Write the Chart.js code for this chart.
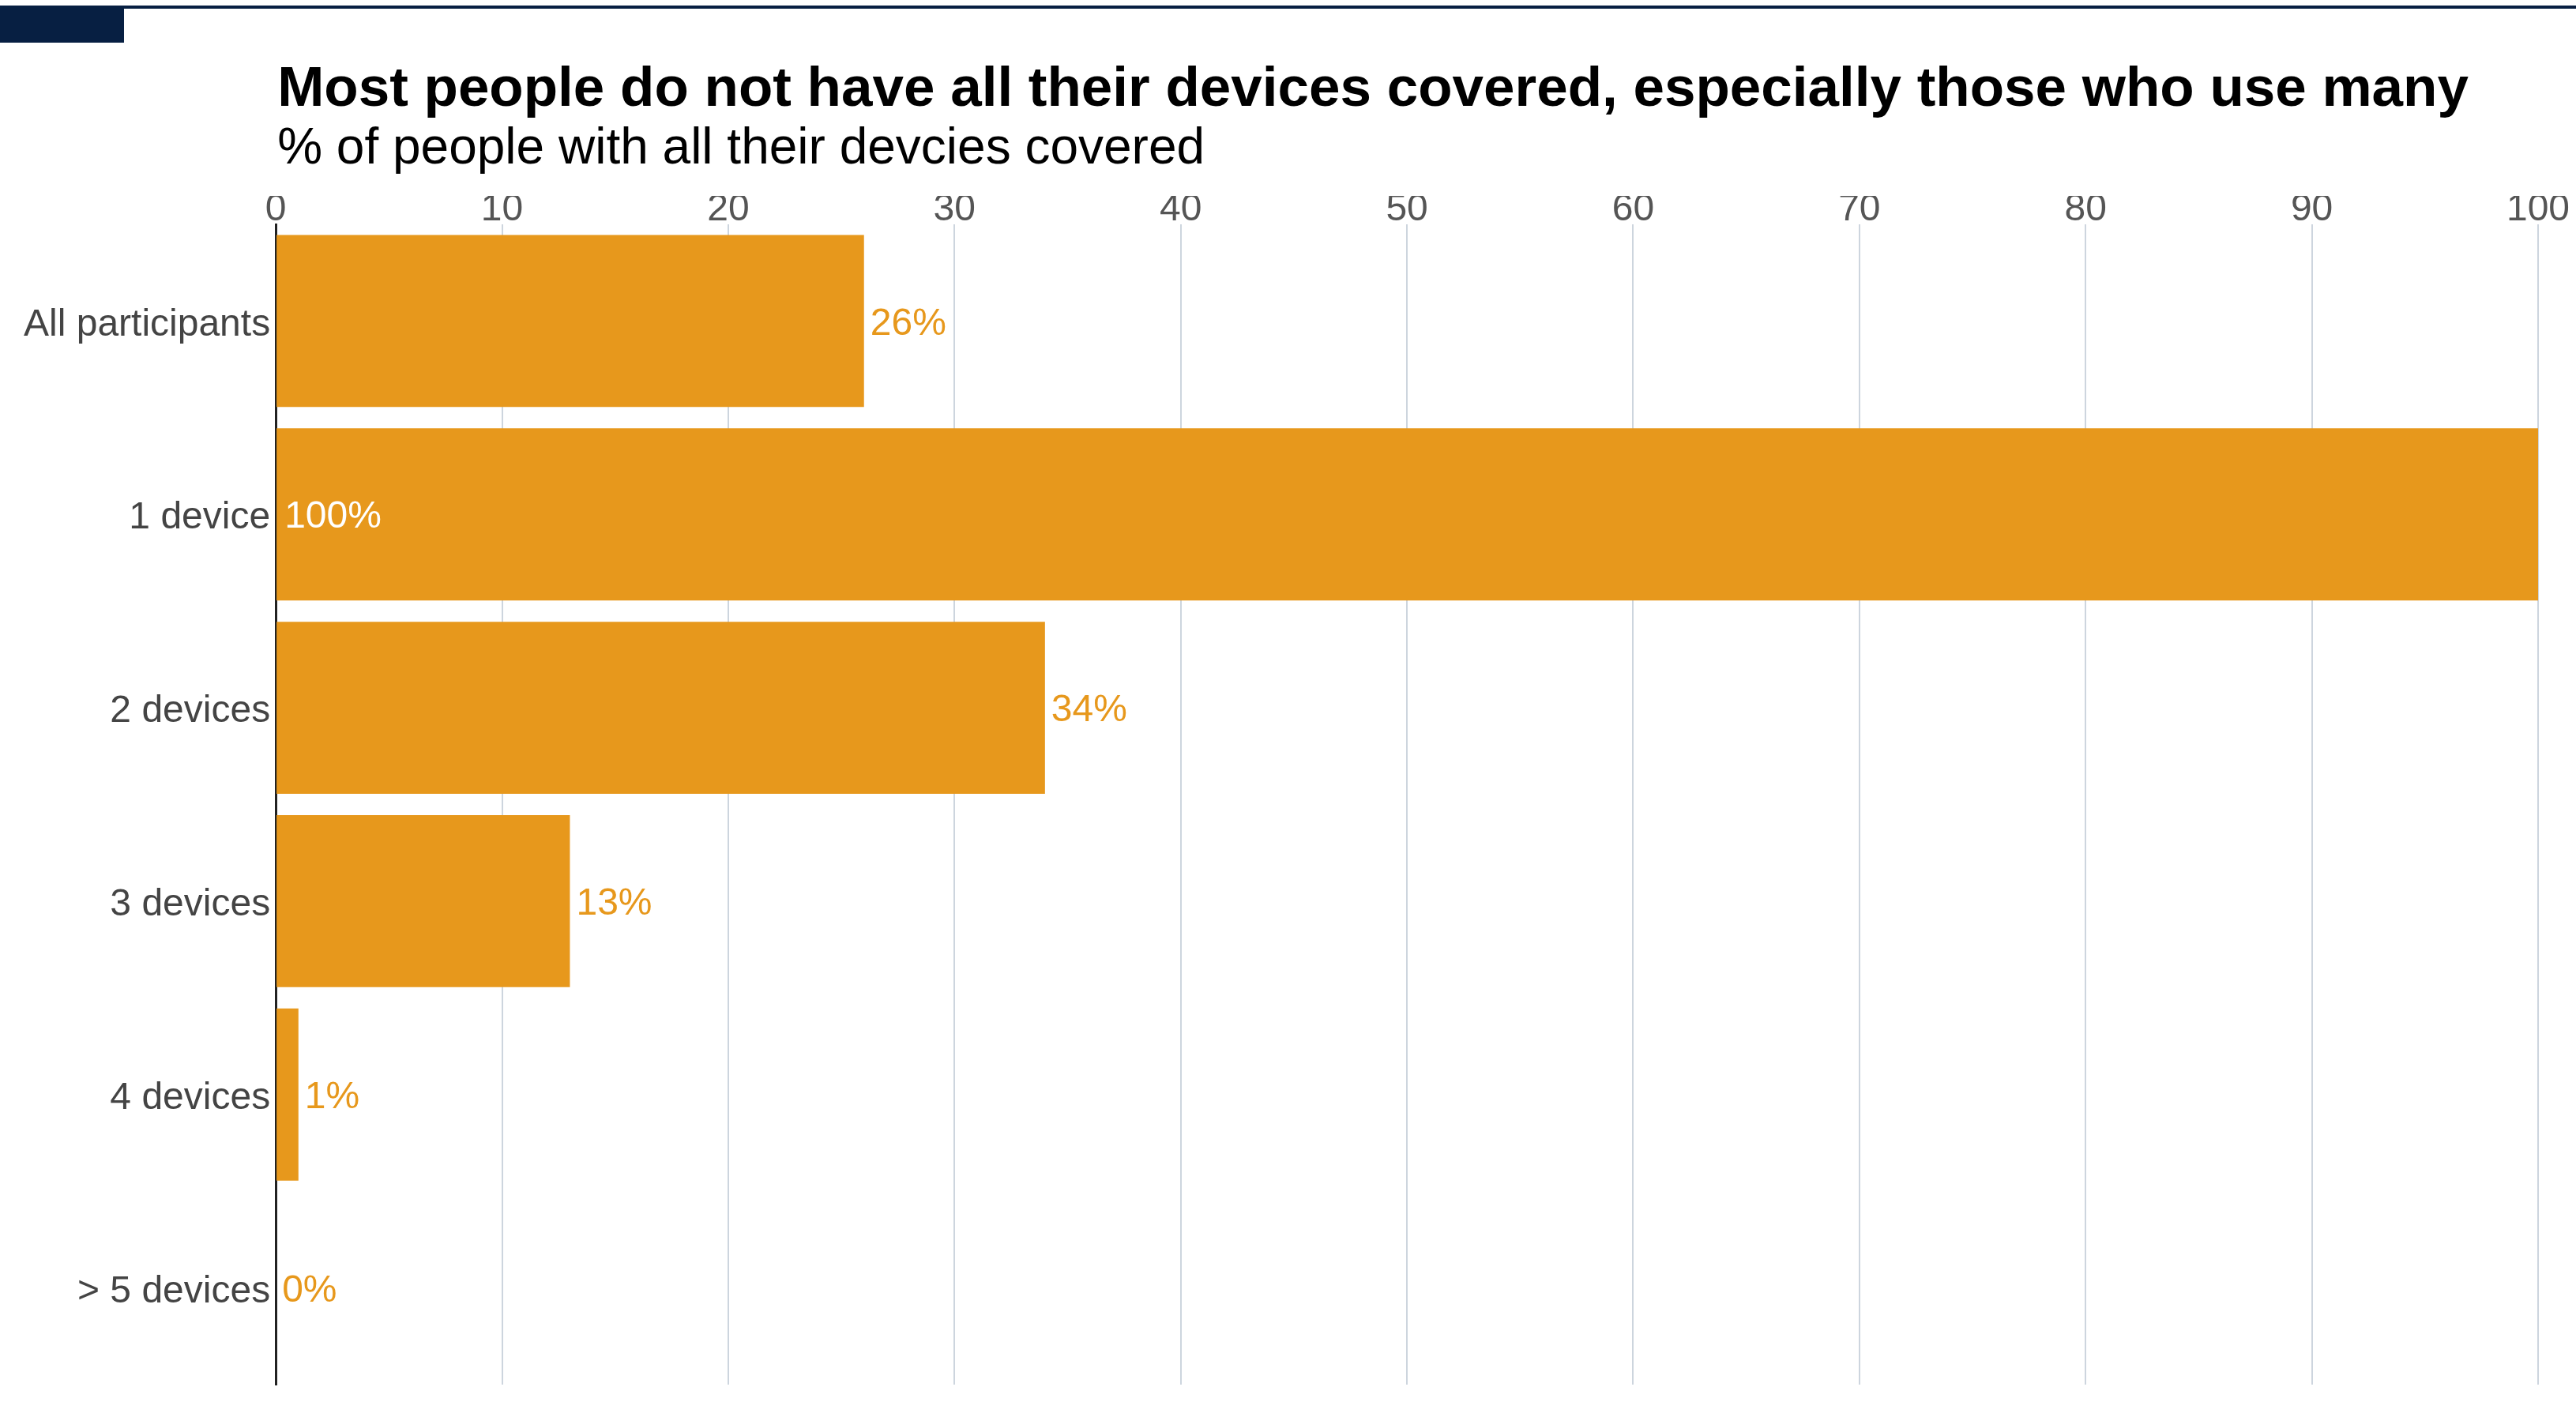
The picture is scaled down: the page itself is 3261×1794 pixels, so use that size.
<!DOCTYPE html>
<html>
<head>
<meta charset="utf-8">
<script src="https://cdn.jsdelivr.net/npm/chart.js@4.4.1/dist/chart.umd.min.js"></script>
<style>
  html, body { margin: 0; padding: 0; background: #fff; }
  #wrap { width: 3261px; height: 1794px; position: relative; }
</style>
</head>
<body>
<div id="wrap"><canvas id="chart"></canvas></div>
<script>
// data
const categories = ['All participants', '1 device', '2 devices', '3 devices', '4 devices', '> 5 devices'];
const covered = [26, 100, 34, 13, 1, 0];
const titleText = 'Most people do not have all their devices covered, especially those who use many';
const subtitleText = '% of people with all their devcies covered';

const FONT = '"Liberation Sans", Arial, sans-serif';
const ORANGE = '#E7981C';
const NAVY = '#071F42';

// header band, title and subtitle
const headerPlugin = {
  id: 'header',
  beforeDraw(chart) {
    const { ctx, chartArea } = chart;
    ctx.save();
    ctx.fillStyle = '#fff';
    ctx.fillRect(0, 0, chart.width, chart.height);
    ctx.fillStyle = NAVY;
    ctx.fillRect(0, 7, chart.width, 4);
    ctx.fillRect(0, 7, 157, 47);
    ctx.fillStyle = '#000';
    ctx.textBaseline = 'alphabetic';
    ctx.textAlign = 'left';
    ctx.font = 'bold 71px ' + FONT;
    ctx.fillText(titleText, chartArea.left + 2, 134);
    ctx.font = '64px ' + FONT;
    ctx.fillText(subtitleText, chartArea.left + 2, 207);
    ctx.restore();
  }
};

// value labels at the end of each bar
const valueLabels = {
  id: 'valueLabels',
  afterDatasetsDraw(chart) {
    const { ctx } = chart;
    const meta = chart.getDatasetMeta(0);
    ctx.save();
    ctx.font = '48px ' + FONT;
    ctx.textBaseline = 'middle';
    ctx.textAlign = 'left';
    meta.data.forEach((bar, i) => {
      const v = covered[i];
      const txt = v + '%';
      if (v >= 90) {
        ctx.fillStyle = '#fff';
        ctx.fillText(txt, bar.base + 10, bar.y + 4);
      } else {
        ctx.fillStyle = ORANGE;
        ctx.fillText(txt, bar.x + 8, bar.y + 4);
      }
    });
    ctx.restore();
  }
};

new Chart(document.getElementById('chart'), {
  type: 'bar',
  data: {
    labels: categories,
    datasets: [{
      data: covered,
      backgroundColor: ORANGE,
      borderWidth: 0,
      categoryPercentage: 1,
      barPercentage: 0.89
    }]
  },
  options: {
    indexAxis: 'y',
    responsive: true,
    maintainAspectRatio: false,
    animation: false,
    layout: { padding: { top: 248, right: 48, bottom: 41, left: 23 } },
    plugins: {
      legend: { display: false },
      tooltip: { enabled: false }
    },
    scales: {
      x: {
        position: 'top',
        min: 0,
        max: 100,
        ticks: { stepSize: 10, color: '#555', font: { family: FONT, size: 48, lineHeight: 0.75 }, padding: 0 },
        grid: { color: '#CDD5DE', lineWidth: 2, drawTicks: false },
        border: { display: false }
      },
      y: {
        ticks: { color: '#444', font: { family: FONT, size: 48 }, padding: 7, labelOffset: 5 },
        grid: { display: false, drawTicks: false },
        border: { color: '#222', width: 3 }
      }
    }
  },
  plugins: [headerPlugin, valueLabels]
});
</script>
</body>
</html>
